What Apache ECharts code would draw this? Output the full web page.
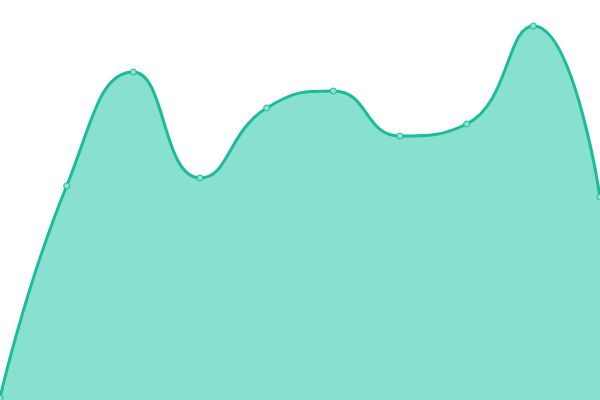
<!DOCTYPE html>
<html>
<head>
<meta charset="utf-8">
<script src="https://cdn.jsdelivr.net/npm/echarts@6/dist/echarts.min.js"></script>
<style>
  html, body { margin: 0; padding: 0; background: #fff; }
  #chart { width: 600px; height: 400px; }
</style>
</head>
<body>
<div id="chart"></div>
<script>
  const categories = ["1", "2", "3", "4", "5", "6", "7", "8", "9", "10"];
  const values = [2, 214, 328, 222, 292, 309, 264, 276, 374, 203];

  const chart = echarts.init(document.getElementById("chart"));
  chart.setOption({
    animation: false,
    grid: { left: 0, right: 0, top: 0, bottom: 0 },
    xAxis: {
      type: "category",
      data: categories,
      boundaryGap: false,
      show: false
    },
    yAxis: {
      type: "value",
      min: 0,
      max: 400,
      show: false
    },
    series: [{
      type: "line",
      data: values,
      smooth: 0.5,
      symbol: "circle",
      symbolSize: 6,
      lineStyle: { color: "#1abc9c", width: 3 },
      itemStyle: { color: "#8de2d1", borderColor: "#1abc9c", borderWidth: 1 },
      areaStyle: { color: "#88e0cf", opacity: 1 }
    }]
  });
</script>
</body>
</html>
